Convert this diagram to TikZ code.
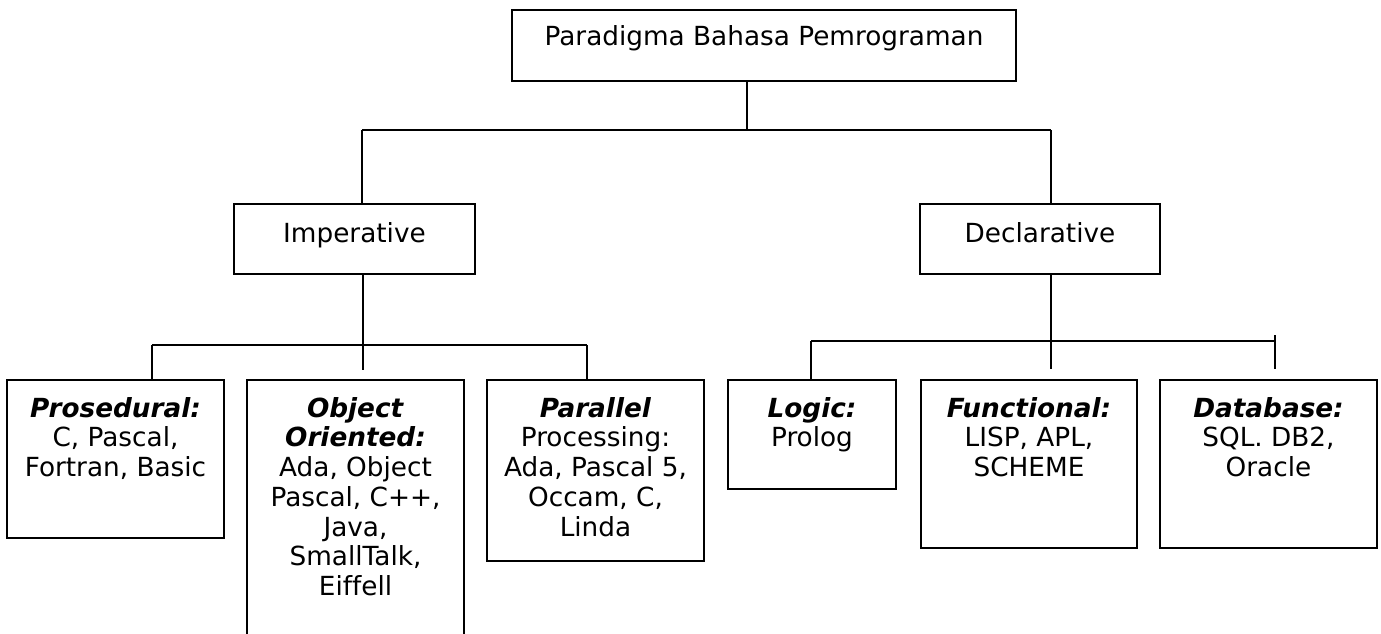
\documentclass[tikz,border=0pt]{standalone}
\usepackage{fontspec}
\setmainfont{DejaVu Sans}[Ligatures={NoCommon}]
\newcommand{\hstrut}{\rule{0pt}{22pt}}
\begin{document}
\begin{tikzpicture}[x=1pt,y=-1pt,
  box/.style={draw, line width=1.8pt, rectangle, inner sep=0pt},
  lbl/.style={anchor=base, align=center, inner sep=0pt, font=\fontsize{26.3}{29.7}\selectfont},
  mlbl/.style={anchor=north, align=center, inner sep=0pt, font=\fontsize{26.3}{29.7}\selectfont},
  conn/.style={line width=1.8pt}]
\useasboundingbox (0,0) rectangle (1381,633);
\clip (0,0) rectangle (1381,633);
% boxes
\node[box, minimum width=504pt, minimum height=71pt] (root) at (764,45.5) {};
\node[box, minimum width=241pt, minimum height=70pt] (imp) at (354.5,239) {};
\node[box, minimum width=240pt, minimum height=70pt] (dec) at (1040,239) {};
\node[box, minimum width=217pt, minimum height=158pt] (pros) at (115.5,459) {};
\node[box, minimum width=217pt, minimum height=280pt] (oo) at (355.5,520) {};
\node[box, minimum width=217pt, minimum height=181pt] (par) at (595.5,470.5) {};
\node[box, minimum width=168pt, minimum height=109pt] (logic) at (812,434.5) {};
\node[box, minimum width=216pt, minimum height=168pt] (func) at (1029,464) {};
\node[box, minimum width=217pt, minimum height=168pt] (db) at (1268.5,464) {};
% texts
\node[lbl] (troot) at (764,45) {Paradigma Bahasa Pemrograman};
\node[lbl] (timp) at (354.5,242) {Imperative};
\node[lbl] (tdec) at (1040,242) {Declarative};
\node[mlbl] (tpros) at (115.5,395) {\hstrut\textbf{\textit{Prosedural:}}\\C, Pascal,\\Fortran, Basic};
\node[mlbl] (too) at (355.5,395) {\hstrut\textbf{\textit{Object}}\\\textbf{\textit{Oriented:}}\\Ada, Object\\Pascal, C++,\\Java,\\SmallTalk,\\Eiffell};
\node[mlbl] (tpar) at (595.5,395) {\hstrut\textbf{\textit{Parallel}}\\Processing:\\Ada, Pascal 5,\\Occam, C,\\Linda};
\node[mlbl] (tlogic) at (812,395) {\hstrut\textbf{\textit{Logic:}}\\Prolog};
\node[mlbl] (tfunc) at (1029,395) {\hstrut\textbf{\textit{Functional:}}\\LISP, APL,\\SCHEME};
\node[mlbl] (tdb) at (1268.5,395) {\hstrut\textbf{\textit{Database:}}\\SQL. DB2,\\Oracle};
% junction coordinates
\coordinate (rj) at (747,130);
\coordinate (bl) at (362,130);
\coordinate (br) at (1051,130);
\coordinate (ij) at (363,345);
\coordinate (il) at (152,345);
\coordinate (ir) at (587,345);
\coordinate (iend) at (363,370);
\coordinate (dj) at (1051,341);
\coordinate (dl) at (811,341);
\coordinate (dr) at (1275,341);
\coordinate (dend) at (1051,369);
\coordinate (dtt) at (1275,335);
\coordinate (dtb) at (1275,369);
% connectors
\draw[conn] (rj |- root.south) -- (rj);
\draw[conn] (bl) -- (br);
\draw[conn] (bl) -- (bl |- imp.north);
\draw[conn] (br) -- (br |- dec.north);
\draw[conn] (ij |- imp.south) -- (iend);
\draw[conn] (il) -- (ir);
\draw[conn] (il) -- (il |- pros.north);
\draw[conn] (ir) -- (ir |- par.north);
\draw[conn] (dj |- dec.south) -- (dend);
\draw[conn] (dl) -- (dr);
\draw[conn] (dl) -- (dl |- logic.north);
\draw[conn] (dtt) -- (dtb);
\end{tikzpicture}
\end{document}
